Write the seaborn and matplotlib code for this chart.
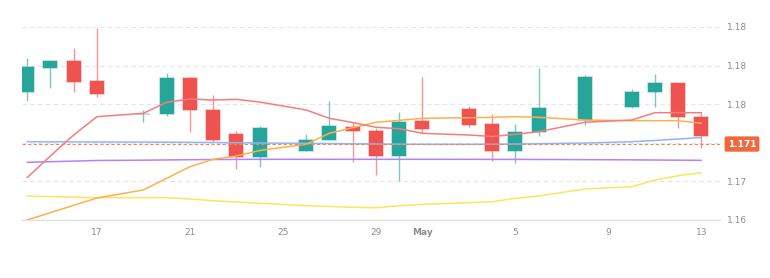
import matplotlib
matplotlib.use("Agg")
import matplotlib.dates as mdates
import matplotlib.pyplot as plt
import matplotlib.transforms as mtransforms
import numpy as np
import pandas as pd
import seaborn as sns

# daily candles (no bars on 18, 25 Apr and 2, 7, 9 May)
dates = ["2025-04-14", "2025-04-15", "2025-04-16", "2025-04-17", "2025-04-19", "2025-04-20",
         "2025-04-21", "2025-04-22", "2025-04-23", "2025-04-24", "2025-04-26", "2025-04-27",
         "2025-04-28", "2025-04-29", "2025-04-30", "2025-05-01", "2025-05-03", "2025-05-04",
         "2025-05-05", "2025-05-06", "2025-05-08", "2025-05-10", "2025-05-11", "2025-05-12",
         "2025-05-13"]
open_ = [1.17658, 1.17973, 1.18063, 1.17801, 1.17369, 1.17373, 1.17836, 1.17429, 1.17110, 1.16812,
         1.16898, 1.17036, 1.17209, 1.17157, 1.16825, 1.17282, 1.17438, 1.17244, 1.16894, 1.17136,
         1.17295, 1.17464, 1.17654, 1.17771, 1.17338]
close = [1.17978, 1.18063, 1.17791, 1.17636, 1.17377, 1.17836, 1.17425, 1.17036, 1.16820, 1.17188,
         1.17040, 1.17214, 1.17153, 1.16825, 1.17273, 1.17175, 1.17231, 1.16894, 1.17136, 1.17455,
         1.17848, 1.17662, 1.17775, 1.17330, 1.17088]
high = [1.18102, 1.18073, 1.18232, 1.18491, 1.17425, 1.17900, 1.17852, 1.17619, 1.17153, 1.17218,
        1.17110, 1.17541, 1.17266, 1.17196, 1.17403, 1.17852, 1.17481, 1.17373, 1.17240, 1.17965,
        1.17878, 1.17693, 1.17887, 1.17771, 1.17403]
low = [1.17545, 1.17706, 1.17662, 1.17593, 1.17266, 1.17351, 1.17144, 1.17014, 1.16661, 1.16690,
       1.16898, 1.17036, 1.16755, 1.16583, 1.16509, 1.17123, 1.17205, 1.16768, 1.16734, 1.17092,
       1.17231, 1.17447, 1.17468, 1.17196, 1.16929]

# moving averages
ma_red = [1.16548, 1.16829, 1.17101, 1.17338, 1.17382, 1.17525, 1.17567, 1.17554, 1.17563, 1.17528,
          1.17425, 1.17317, 1.17263, 1.17201, 1.17183, 1.17123, 1.17101, 1.17082, 1.17110, 1.17144,
          1.17266, 1.17295, 1.17390, 1.17390, 1.17390]
ma_orange = [1.16000, 1.16095, 1.16190, 1.16285, 1.16389, 1.16540, 1.16690, 1.16786, 1.16829, 1.16900,
             1.16981, 1.17123, 1.17196, 1.17266, 1.17291, 1.17317, 1.17325, 1.17330, 1.17338, 1.17330,
             1.17295, 1.17286, 1.17286, 1.17286, 1.17253]
ma_yellow = [1.16311, 1.16303, 1.16295, 1.16289, 1.16289, 1.16289, 1.16272, 1.16250, 1.16233, 1.16218,
             1.16185, 1.16175, 1.16165, 1.16159, 1.16185, 1.16203, 1.16224, 1.16237, 1.16281, 1.16311,
             1.16402, 1.16431, 1.16518, 1.16574, 1.16613]
ma_blue = [1.17014, 1.17013, 1.17012, 1.17010, 1.17009, 1.17008, 1.17006, 1.17004, 1.17001, 1.16997,
           1.16993, 1.16990, 1.16987, 1.16984, 1.16982, 1.16981, 1.16981, 1.16981, 1.16984, 1.16988,
           1.16997, 1.17014, 1.17030, 1.17049, 1.17069]
ma_purple = [1.16747, 1.16755, 1.16763, 1.16771, 1.16775, 1.16778, 1.16781, 1.16783, 1.16785, 1.16786,
             1.16786, 1.16786, 1.16786, 1.16786, 1.16786, 1.16786, 1.16786, 1.16785, 1.16785, 1.16784,
             1.16782, 1.16779, 1.16777, 1.16775, 1.16773]

price_line = 1.16984
price_label = "1.171"

# the 1.170 label sits under the price tag, so it is left blank
y_ticks = [1.160, 1.165, 1.170, 1.175, 1.180, 1.185]
y_labels = ["1.16", "1.17", "", "1.18", "1.18", "1.18"]
x_tick_dates = ["2025-04-17", "2025-04-21", "2025-04-25", "2025-04-29", "2025-05-01",
                "2025-05-05", "2025-05-09", "2025-05-13"]
x_labels = ["17", "21", "25", "29", "May", "5", "9", "13"]

GREEN = "#26a69a"
RED = "#ef5350"

x = mdates.date2num(pd.to_datetime(dates))
o = np.array(open_)
c = np.array(close)
up = c >= o
body_colors = np.where(up, GREEN, RED)

sns.set_theme(style="white")
plt.rcParams["font.family"] = ["DejaVu Sans"]

fig = plt.figure(figsize=(7.7, 2.78), dpi=100)
ax = fig.add_axes([22 / 770, 58 / 278, 698 / 770, 210 / 278])

# candles
ax.vlines(x, low, high, colors=body_colors, linewidth=1.0, alpha=0.6, zorder=2)
ax.bar(x, c - o, bottom=o, width=0.6, color=body_colors,
       edgecolor=[matplotlib.colors.to_rgba(col, 0.35) for col in body_colors],
       linewidth=1.2, zorder=3)
# doji gets a visible body
doji = np.abs(c - o) < 0.00005
ax.bar(x[doji], 0.0001, bottom=o[doji] - 0.00005, width=0.6, color=GREEN, alpha=0.8, zorder=3)

# moving averages
ma_df = pd.DataFrame({"x": x, "ma_yellow": ma_yellow, "ma_purple": ma_purple,
                      "ma_blue": ma_blue, "ma_orange": ma_orange, "ma_red": ma_red})
ma_long = ma_df.melt(id_vars="x", var_name="line", value_name="price")
palette = {"ma_yellow": "#ffe45c", "ma_purple": "#b282fb", "ma_blue": "#8fb6f7",
           "ma_orange": "#ffb04a", "ma_red": "#f77c7c"}
sns.lineplot(data=ma_long, x="x", y="price", hue="line", palette=palette, ax=ax,
             linewidth=1.1, legend=False, sort=False, zorder=4)

# current price line + tag
ax.axhline(price_line, color="#f4845f", linestyle=(0, (3, 2)), linewidth=0.8, zorder=5)
trans = mtransforms.blended_transform_factory(ax.transAxes, ax.transData)
ax.text(1.0315, price_line, price_label, transform=trans, ha="center", va="center",
        fontsize=6.5, fontweight="bold", color="white", clip_on=False, zorder=6,
        bbox=dict(boxstyle="round,pad=0.35,rounding_size=0.2", fc="#f0683f", ec="none"))

# axes styling
ax.set_xlim(x[0] - 0.22, x[-1] + 0.8)
ax.set_ylim(1.160, 1.16 + 210 / 7720)
ax.set_yticks(y_ticks)
ax.set_yticklabels(y_labels)
ax.yaxis.tick_right()
ax.yaxis.grid(True, linestyle=(0, (4, 3)), color="#e6e6e6", linewidth=0.8)
ax.xaxis.grid(False)
ax.set_xticks(mdates.date2num(pd.to_datetime(x_tick_dates)))
ax.set_xticklabels(x_labels)
for lab in ax.get_xticklabels():
    if lab.get_text() == "May":
        lab.set_fontweight("bold")
        lab.set_color("#555555")
ax.tick_params(axis="y", length=0, pad=5, labelsize=6.5, labelcolor="#8c8c8c")
ax.tick_params(axis="x", length=3, width=0.8, color="#dddddd", pad=3,
               labelsize=6.5, labelcolor="#8c8c8c")
for side in ["top", "right", "left"]:
    ax.spines[side].set_visible(False)
ax.spines["bottom"].set_color("#e3e3e3")
ax.spines["bottom"].set_linewidth(1.0)
ax.set_xlabel("")
ax.set_ylabel("")

fig.savefig("out.png", dpi=100)
